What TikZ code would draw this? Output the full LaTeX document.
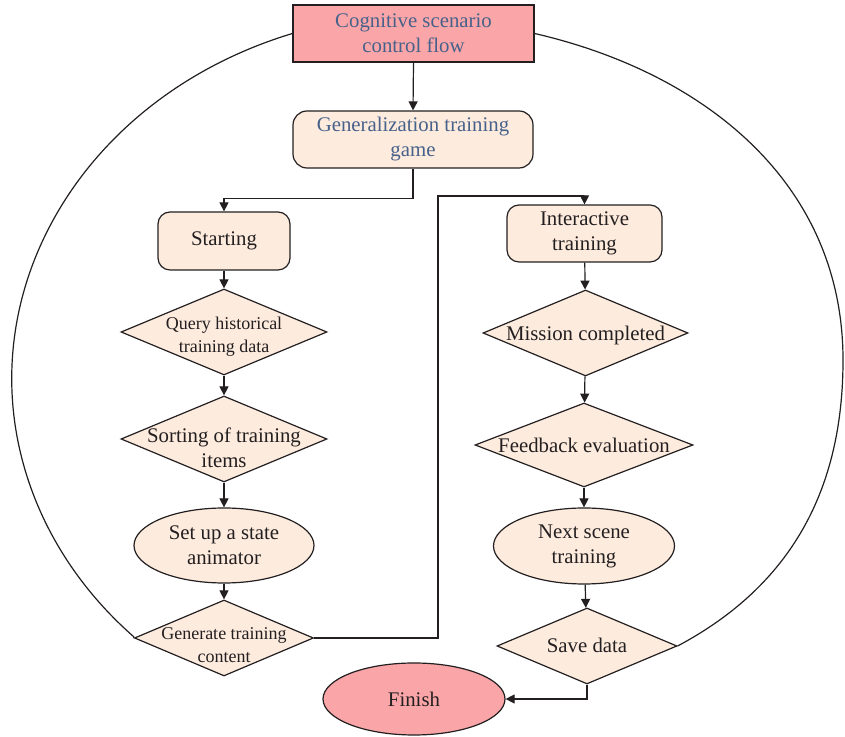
\documentclass[tikz,border=0pt]{standalone}
\usepackage{fontspec}
\setmainfont{Liberation Serif}
\usetikzlibrary{shapes.geometric,arrows.meta}
\definecolor{rosefill}{RGB}{250,166,168}
\definecolor{peachfill}{RGB}{253,235,222}
\definecolor{titleblue}{RGB}{70,97,138}
\definecolor{inkline}{RGB}{35,31,32}

\begin{document}
\begin{tikzpicture}[x=0.5pt,y=0.5pt,
    every node/.style={font=\fontsize{10.4}{12.5}\selectfont, text=inkline, align=center},
    rbox/.style={draw=inkline, fill=peachfill, rounded corners=6pt, inner sep=0pt, line width=0.6pt},
    dia/.style={diamond, draw=inkline, fill=peachfill, inner sep=0pt, line width=0.6pt},
    oval/.style={ellipse, draw=inkline, fill=peachfill, inner sep=0pt, line width=0.6pt},
    smalltxt/.style={font=\fontsize{9}{11.5}\selectfont},
    arr/.style={-{Triangle[length=4.5pt,width=4.5pt]}, draw=inkline, line width=0.6pt},
    loopline/.style={draw=inkline, line width=0.6pt}]
            \useasboundingbox (0,0) rectangle (845,737);

            \node[draw=inkline, fill=rosefill, line width=0.6pt, minimum width=120.5pt, minimum height=28.5pt, inner sep=0pt, text=titleblue] (scen) at (413.5,703.5) {Cognitive scenario\\control flow};
            \node[rbox, rounded corners=7pt, minimum width=120pt, minimum height=28.5pt, text=titleblue] (game) at (413,597.5) {Generalization training\\game};
            \node[rbox, minimum width=66pt, minimum height=29pt] (start) at (224,496) {Starting};
            \node[dia, minimum width=103pt, minimum height=43pt, label={[smalltxt,yshift=-2.5pt]center:Query historical\\training data}] (query) at (224,405) {};
            \node[dia, minimum width=103pt, minimum height=43pt, label={[yshift=-4.5pt]center:Sorting of training\\items}] (sort) at (224,298) {};
            \node[oval, minimum width=90pt, minimum height=37.5pt] (anim) at (224,191.5) {Set up a state\\animator};
            \node[dia, minimum width=89.5pt, minimum height=38pt, label={[smalltxt,yshift=-3.5pt]center:Generate training\\content}] (make) at (224,99) {};

            \node[rbox, minimum width=77.5pt, minimum height=28.5pt] (inter) at (584.5,503.5) {Interactive\\training};
            \node[dia, minimum width=102.5pt, minimum height=43pt, label={[yshift=-1.5pt]center:Mission completed}] (mission) at (585.5,404) {};
            \node[dia, minimum width=109pt, minimum height=42pt, label={center:Feedback evaluation}] (feed) at (584,292) {};
            \node[oval, minimum width=90.5pt, minimum height=38pt] (next) at (584,191) {Next scene\\training};
            \node[dia, minimum width=90pt, minimum height=38pt, label={[yshift=0.5pt]center:Save data}] (save) at (587,91) {};
            \node[ellipse, draw=inkline, fill=rosefill, line width=0.6pt, minimum width=91pt, minimum height=36pt, inner sep=0pt] (finish) at (414,38) {Finish};

            \coordinate (turn) at (438,541);
            \coordinate (rgt) at (843,377);

            \draw[arr] (scen.south) -- (game.north);
            \draw[arr] (game.south) -- ++(0,-30) -| (start.north);
            \draw[arr] (start) -- (query);
            \draw[arr] (query) -- (sort);
            \draw[arr] (sort) -- (anim);
            \draw[arr] (anim) -- (make);
            \draw[arr] (make.east) -| (turn) -| (inter.north);
            \draw[arr] (inter) -- (mission);
            \draw[arr] (mission) -- (feed);
            \draw[arr] (feed) -- (next);
            \draw[arr] (next) -- (save);
            \draw[arr] (save.south) |- (finish.east);

            \draw[loopline] (scen.west) arc[start angle=109, end angle=225, x radius=416, y radius=365] -- (make.west);
            \draw[loopline] (save.east) to[out=28,in=-90] (rgt) to[out=90,in=-13] (scen.east);
        \end{tikzpicture}
\end{document}
